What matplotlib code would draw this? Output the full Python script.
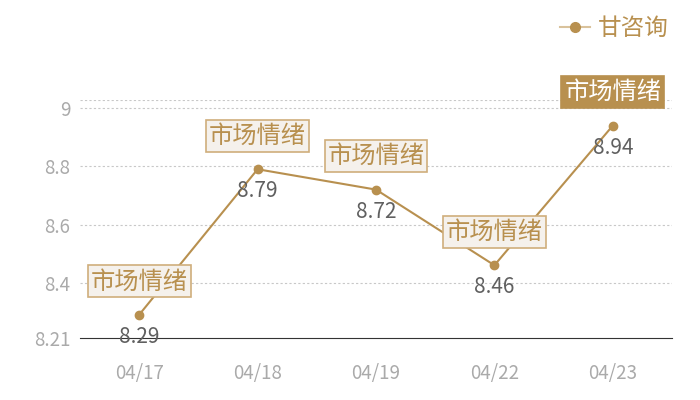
import matplotlib
matplotlib.use("Agg")
import matplotlib.pyplot as plt
from matplotlib.lines import Line2D

plt.rcParams['font.family'] = ['Noto Sans CJK SC', 'DejaVu Sans']

# data
dates = ["04/17", "04/18", "04/19", "04/22", "04/23"]
values = [8.29, 8.79, 8.72, 8.46, 8.94]
tag = "市场情绪"
series_name = "甘咨询"
ytick_vals = [8.21, 8.4, 8.6, 8.8, 9]
ytick_labels = ["8.21", "8.4", "8.6", "8.8", "9"]

gold = "#b8904f"
fig = plt.figure(figsize=(7, 4), dpi=100)
ax = fig.add_axes([80 / 700, 62 / 400, 592 / 700, 238 / 400])

x = list(range(len(dates)))
ax.plot(x, values, color=gold, lw=1.5, marker="o", ms=6, zorder=3)

ax.set_xlim(-0.5, len(dates) - 0.5)
ax.set_ylim(8.21, 9.028)
ax.set_xticks(x)
ax.set_xticklabels(dates)
ax.set_yticks(ytick_vals)
ax.set_yticklabels(ytick_labels)
ax.tick_params(axis="x", length=0, pad=18, labelsize=13.5, labelcolor="#aaaaaa")
ax.tick_params(axis="y", length=0, pad=7, labelsize=13.5, labelcolor="#aaaaaa")

for s in ["top", "right", "left"]:
    ax.spines[s].set_visible(False)
ax.spines["bottom"].set_color("#333333")

# dotted gridlines
for yv in ytick_vals[1:] + [9.028]:
    ax.axhline(yv, color="#c8c8c8", ls=(0, (2, 2)), lw=0.8, zorder=1)

for i, v in enumerate(values):
    ax.annotate(f"{v:.2f}", xy=(i, v), xytext=(0, -16), textcoords="offset points",
                ha="center", va="center", fontsize=15, color="#606060", zorder=4)
    last = i == len(values) - 1
    box = dict(boxstyle="square,pad=0.12",
               fc=gold if last else "#f5f1ec",
               ec=gold if last else "#cfae7c", lw=1.2)
    ax.annotate(tag, xy=(i, v), xytext=(0, 24), textcoords="offset points",
                ha="center", va="center", fontsize=17.5,
                color="white" if last else gold, bbox=box, zorder=5)

handle = Line2D([], [], color="#d9c29c", lw=1.5, marker="o", ms=7,
                mfc=gold, mec=gold)
fig.legend([handle], [series_name], loc="upper right", bbox_to_anchor=(0.985, 1.01),
           frameon=False, fontsize=17, labelcolor=gold, handlelength=1.3,
           handletextpad=0.3)

fig.savefig("out.png", dpi=100)
